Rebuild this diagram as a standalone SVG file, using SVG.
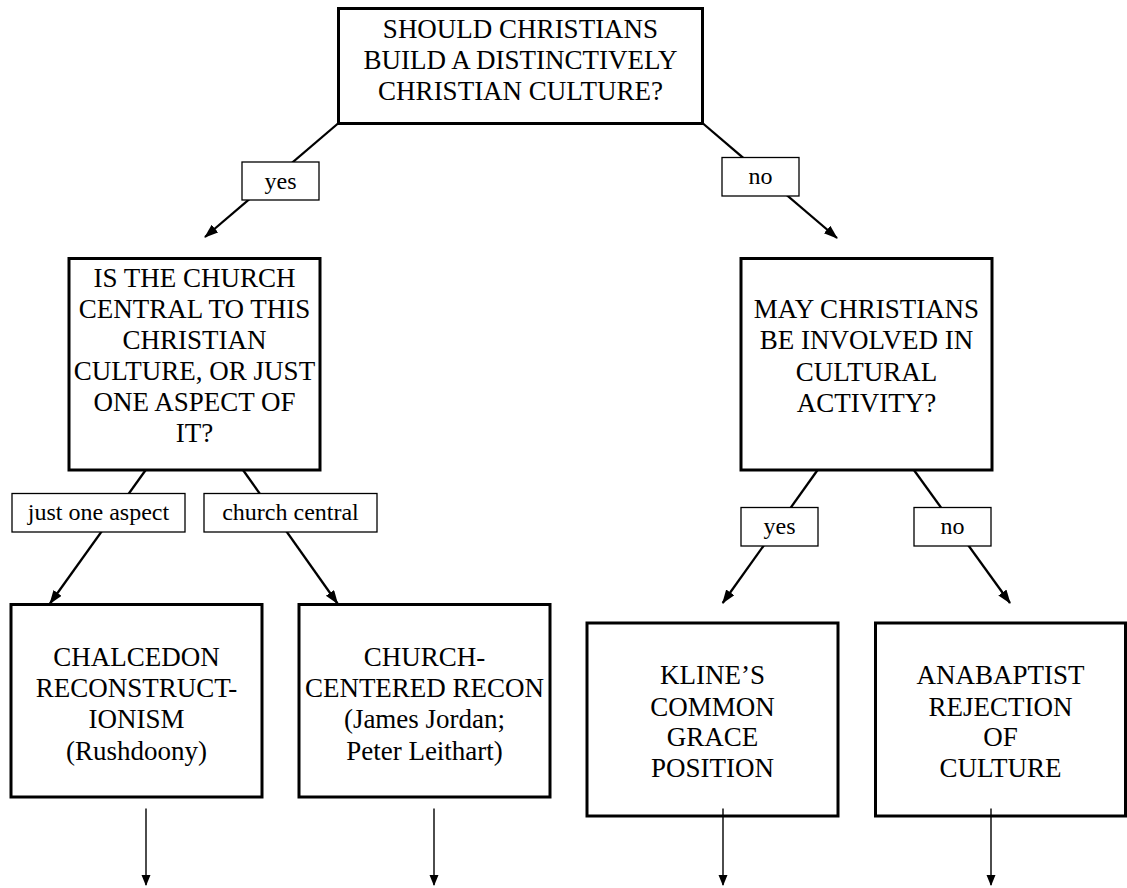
<svg xmlns="http://www.w3.org/2000/svg" width="1127" height="888" viewBox="0 0 1127 888">
<style>
  .box { fill: #ffffff; stroke: #000000; stroke-width: 3; }
  .lbl { fill: #ffffff; stroke: #000000; stroke-width: 1.3; }
  .t { font-family: "Liberation Serif", "Times New Roman", serif; font-size: 27px; fill: #000000; text-anchor: middle; }
  .tl { font-family: "Liberation Serif", "Times New Roman", serif; font-size: 24px; fill: #000000; text-anchor: middle; }
  .edge { stroke: #000000; stroke-width: 2.3; fill: none; marker-end: url(#ah); }
  .down { stroke: #000000; stroke-width: 1.4; fill: none; marker-end: url(#ahs); }
</style>
<defs>
  <marker id="ah" markerUnits="userSpaceOnUse" markerWidth="16" markerHeight="12" refX="13" refY="5" orient="auto">
    <path d="M0,0 L14,5 L0,10 z" fill="#000000"/>
  </marker>
  <marker id="ahs" markerUnits="userSpaceOnUse" markerWidth="12" markerHeight="10" refX="10" refY="4.5" orient="auto">
    <path d="M0,0 L11,4.5 L0,9 z" fill="#000000"/>
  </marker>
</defs>

<g id="q-top">
  <rect class="box" x="338.5" y="8.5" width="364" height="115"/>
  <text class="t" x="520.5" y="38">SHOULD CHRISTIANS</text>
  <text class="t" x="520.5" y="69">BUILD A DISTINCTIVELY</text>
  <text class="t" x="520.5" y="100">CHRISTIAN CULTURE?</text>
</g>

<g id="q-church">
  <rect class="box" x="69" y="258.5" width="251" height="211.5"/>
  <text class="t" x="194.5" y="287">IS THE CHURCH</text>
  <text class="t" x="194.5" y="318">CENTRAL TO THIS</text>
  <text class="t" x="194.5" y="349">CHRISTIAN</text>
  <text class="t" x="194.5" y="380">CULTURE, OR JUST</text>
  <text class="t" x="194.5" y="411">ONE ASPECT OF</text>
  <text class="t" x="194.5" y="442">IT?</text>
</g>

<g id="q-involved">
  <rect class="box" x="741" y="258.5" width="251" height="211.5"/>
  <text class="t" x="866.5" y="318">MAY CHRISTIANS</text>
  <text class="t" x="866.5" y="349.3">BE INVOLVED IN</text>
  <text class="t" x="866.5" y="380.6">CULTURAL</text>
  <text class="t" x="866.5" y="412">ACTIVITY?</text>
</g>

<g id="r-chalcedon">
  <rect class="box" x="11" y="604.5" width="251" height="192.5"/>
  <text class="t" x="136.5" y="665.5">CHALCEDON</text>
  <text class="t" x="136.5" y="697">RECONSTRUCT-</text>
  <text class="t" x="136.5" y="728">IONISM</text>
  <text class="t" x="136.5" y="759.5">(Rushdoony)</text>
</g>

<g id="r-church-centered">
  <rect class="box" x="299" y="604.5" width="251" height="192.5"/>
  <text class="t" x="424.5" y="665.5">CHURCH-</text>
  <text class="t" x="424.5" y="697">CENTERED RECON</text>
  <text class="t" x="424.5" y="728">(James Jordan;</text>
  <text class="t" x="424.5" y="759.5">Peter Leithart)</text>
</g>

<g id="r-kline">
  <rect class="box" x="587" y="623" width="251" height="193"/>
  <text class="t" x="712.5" y="684">KLINE’S</text>
  <text class="t" x="712.5" y="715.5">COMMON</text>
  <text class="t" x="712.5" y="746">GRACE</text>
  <text class="t" x="712.5" y="777">POSITION</text>
</g>

<g id="r-anabaptist">
  <rect class="box" x="875.5" y="623" width="250" height="193"/>
  <text class="t" x="1000.5" y="684">ANABAPTIST</text>
  <text class="t" x="1000.5" y="715.5">REJECTION</text>
  <text class="t" x="1000.5" y="746">OF</text>
  <text class="t" x="1000.5" y="777">CULTURE</text>
</g>

<g id="connectors">
  <line class="edge" x1="338" y1="123.5" x2="205" y2="237"/>
  <line class="edge" x1="703" y1="123.5" x2="837" y2="238"/>
  <line class="edge" x1="145.7" y1="470" x2="50" y2="603.5"/>
  <line class="edge" x1="243" y1="470" x2="337.5" y2="603.5"/>
  <line class="edge" x1="817.6" y1="470" x2="722.7" y2="603"/>
  <line class="edge" x1="913.9" y1="470" x2="1010" y2="603"/>
  <line class="down" x1="146" y1="808.5" x2="146" y2="885"/>
  <line class="down" x1="434" y1="808.5" x2="434" y2="885"/>
  <line class="down" x1="723" y1="808.5" x2="723" y2="885"/>
  <line class="down" x1="991" y1="808.5" x2="991" y2="885"/>
</g>

<g id="lbl-yes-top">
  <rect class="lbl" x="242" y="162" width="77" height="38"/>
  <text class="tl" x="280.5" y="188.5">yes</text>
</g>
<g id="lbl-no-top">
  <rect class="lbl" x="722" y="157.5" width="77" height="38.5"/>
  <text class="tl" x="760.5" y="183.5">no</text>
</g>
<g id="lbl-just-one-aspect">
  <rect class="lbl" x="12" y="493.5" width="173" height="38.5"/>
  <text class="tl" x="98.5" y="519.5">just one aspect</text>
</g>
<g id="lbl-church-central">
  <rect class="lbl" x="204" y="493.5" width="173" height="38.5"/>
  <text class="tl" x="290.5" y="519.5">church central</text>
</g>
<g id="lbl-yes-low">
  <rect class="lbl" x="741" y="507.5" width="77" height="38.5"/>
  <text class="tl" x="779.5" y="533.5">yes</text>
</g>
<g id="lbl-no-low">
  <rect class="lbl" x="914" y="507.5" width="77" height="38.5"/>
  <text class="tl" x="952.5" y="533.5">no</text>
</g>
</svg>
